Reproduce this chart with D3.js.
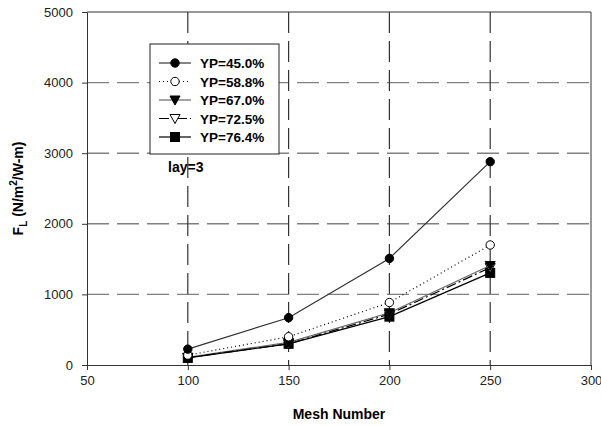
<!DOCTYPE html>
<html>
<head>
<meta charset="utf-8">
<script src="https://cdn.jsdelivr.net/npm/d3@7/dist/d3.min.js"></script>
<style>
  html, body { margin: 0; padding: 0; background: #fff; }
  svg { display: block; font-family: "Liberation Sans", Arial, sans-serif; }
</style>
</head>
<body>
<svg id="chart" width="601" height="426"></svg>
<script>
// Mesh numbers on the x axis
const meshNumbers = [100, 150, 200, 250];

// F_L values for each yield percentage (YP)
const yp450 = [225, 670, 1510, 2880];
const yp588 = [140, 400, 885, 1700];
const yp670 = [110, 320, 740, 1410];
const yp725 = [105, 300, 720, 1380];
const yp764 = [100, 300, 685, 1305];

const seriesLabels = ["YP=45.0%", "YP=58.8%", "YP=67.0%", "YP=72.5%", "YP=76.4%"];

const xTicks = [50, 100, 150, 200, 250, 300];
const yTicks = [0, 1000, 2000, 3000, 4000, 5000];

const series = [
  { label: seriesLabels[0], values: yp450, marker: "circle", fill: "#000", stroke: "#333", dash: null },
  { label: seriesLabels[1], values: yp588, marker: "circle", fill: "#fff", stroke: "#000", dash: "1,3" },
  { label: seriesLabels[2], values: yp670, marker: "tri", fill: "#000", stroke: "#666", dash: null },
  { label: seriesLabels[3], values: yp725, marker: "tri", fill: "#fff", stroke: "#000", dash: "10,3,2,3" },
  { label: seriesLabels[4], values: yp764, marker: "square", fill: "#000", stroke: "#000", dash: null }
];

const W = 601, H = 426;
const margin = { left: 87, right: 10, top: 12, bottom: 61 };
const svg = d3.select("#chart");

const x = d3.scaleLinear().domain([50, 300]).range([margin.left, W - margin.right]);
const y = d3.scaleLinear().domain([0, 5000]).range([H - margin.bottom, margin.top]);

// Dashed horizontal grid lines
svg.append("g").selectAll("line").data(yTicks.slice(1, -1)).join("line")
  .attr("x1", x(50)).attr("x2", x(300))
  .attr("y1", d => y(d)).attr("y2", d => y(d))
  .attr("stroke", "#808080").attr("stroke-width", 1.4)
  .attr("stroke-dasharray", "22,8");

// Plot frame (top and right)
svg.append("path")
  .attr("d", `M${x(50)},${y(5000)}H${x(300)}V${y(0)}`)
  .attr("fill", "none").attr("stroke", "#333").attr("stroke-width", 1);

// Axes
const xAxis = d3.axisBottom(x).tickValues(xTicks).tickSize(5).tickSizeOuter(0).tickFormat(d3.format("d"));
const yAxis = d3.axisLeft(y).tickValues(yTicks).tickSize(5).tickSizeOuter(0).tickFormat(d3.format("d"));

const gx = svg.append("g").attr("transform", `translate(0,${y(0)})`).call(xAxis);
const gy = svg.append("g").attr("transform", `translate(${x(50)},0)`).call(yAxis);
[gx, gy].forEach(g => {
  g.select(".domain").attr("stroke", "#333");
  g.selectAll(".tick line").attr("stroke", "#333");
  g.selectAll(".tick text").attr("fill", "#222").attr("font-size", 13)
    .attr("font-family", "'Liberation Sans', Arial, sans-serif");
});
gx.selectAll(".tick text").attr("dy", "0.95em").attr("y", 8);
gy.selectAll(".tick text").attr("x", -14);

// Annotation
svg.append("text").attr("x", 168).attr("y", 172)
  .attr("font-size", 14).attr("font-weight", "bold").text("lay=3");

// Vertical dashed grid lines
svg.append("g").selectAll("line").data(xTicks.slice(1, -1)).join("line")
  .attr("x1", d => x(d)).attr("x2", d => x(d))
  .attr("y1", y(5000)).attr("y2", y(0))
  .attr("stroke", "#333").attr("stroke-width", 1.2)
  .attr("stroke-dasharray", "21,8");

// Legend box
const lg = svg.append("g").attr("transform", "translate(150,44)");
lg.append("rect").attr("width", 129).attr("height", 110)
  .attr("fill", "#fff").attr("stroke", "#222").attr("stroke-width", 1);

function drawMarker(g, s, cx, cy) {
  if (s.marker === "circle") {
    g.append("circle").attr("cx", cx).attr("cy", cy).attr("r", 4.2)
      .attr("fill", s.fill).attr("stroke", "#000").attr("stroke-width", 1);
  } else if (s.marker === "square") {
    g.append("rect").attr("x", cx - 4.5).attr("y", cy - 4.5).attr("width", 9).attr("height", 9)
      .attr("fill", s.fill).attr("stroke", "#000").attr("stroke-width", 1);
  } else {
    g.append("path").attr("d", `M${cx - 5},${cy - 4}L${cx + 5},${cy - 4}L${cx},${cy + 5}Z`)
      .attr("fill", s.fill).attr("stroke", "#000").attr("stroke-width", 1);
  }
}

// Series lines and markers
const line = d3.line().x((d, i) => x(meshNumbers[i])).y(d => y(d));
series.forEach(s => {
  svg.append("path").datum(s.values).attr("d", line)
    .attr("fill", "none").attr("stroke", s.stroke).attr("stroke-width", 1.2)
    .attr("stroke-dasharray", s.dash);
});
series.slice().reverse().forEach(s => {
  const g = svg.append("g");
  s.values.forEach((v, i) => drawMarker(g, s, x(meshNumbers[i]), y(v)));
});

// Legend entries
series.forEach((s, i) => {
  const cy = 19 + i * 18.5;
  lg.append("line").attr("x1", 9).attr("x2", 41).attr("y1", cy).attr("y2", cy)
    .attr("stroke", s.stroke).attr("stroke-width", 1.2).attr("stroke-dasharray", s.dash);
  drawMarker(lg, s, 25, cy);
  lg.append("text").attr("x", 50).attr("y", cy + 5)
    .attr("font-size", 13.5).attr("font-weight", "bold").text(s.label);
});

// Axis titles
svg.append("text").attr("x", x(175)).attr("y", 419)
  .attr("text-anchor", "middle").attr("font-size", 14).attr("font-weight", "bold")
  .text("Mesh Number");

const yt = svg.append("text")
  .attr("transform", `translate(23,${(y(0) + y(5000)) / 2}) rotate(-90)`)
  .attr("text-anchor", "middle").attr("font-size", 14).attr("font-weight", "bold");
yt.append("tspan").text("F");
yt.append("tspan").attr("font-size", 10).attr("dy", 4).text("L");
yt.append("tspan").attr("dy", -4).text(" (N/m");
yt.append("tspan").attr("font-size", 10).attr("dy", -6).text("2");
yt.append("tspan").attr("dy", 6).text("/W-m)");
</script>
</body>
</html>
